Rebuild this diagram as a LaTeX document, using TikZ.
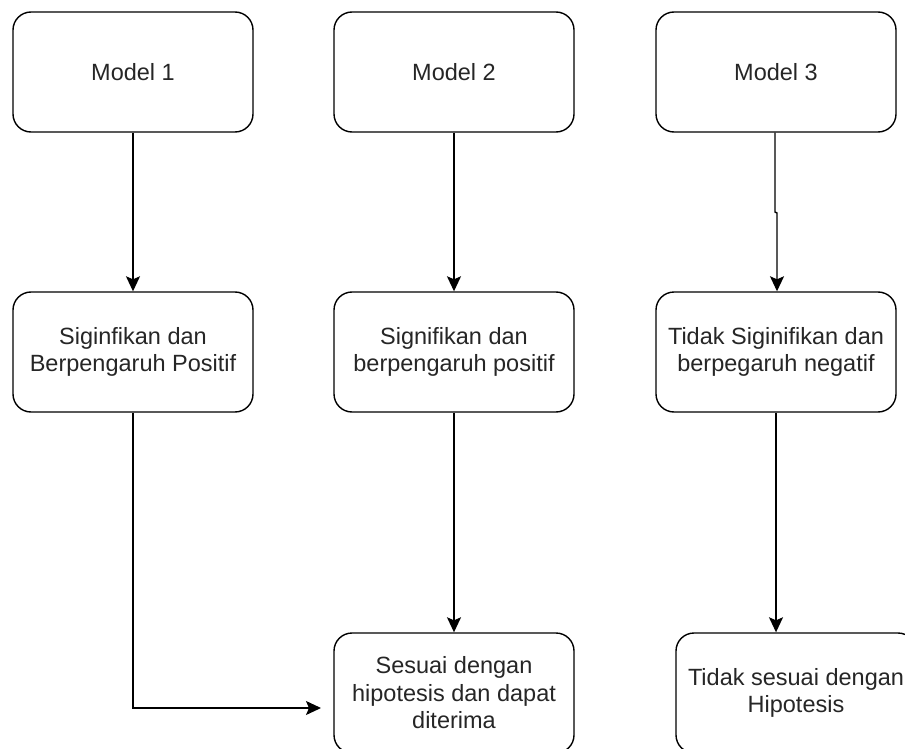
\documentclass[tikz,border=0pt]{standalone}
\usepackage{fontspec}
\setmainfont{Liberation Sans}
\usetikzlibrary{arrows.meta}
\begin{document}
\begin{tikzpicture}[x=1pt,y=-1pt,
  box/.style={draw=black, line width=1.4pt, rounded corners=18pt, fill=white,
    minimum width=240pt, minimum height=120pt, inner sep=0pt, align=center,
    text=black!85, font=\fontsize{23.5}{27.5}\selectfont},
  arr/.style={draw=black, line width=1.4pt, -{Stealth[length=15pt,width=14pt,inset=3pt]}}]
\useasboundingbox (0,0) rectangle (905,749);
\clip (0,0) rectangle (905,749);
\node[box] (m1) at (133,72) {Model 1};
\node[box] (m2) at (454,72) {Model 2};
\node[box] (m3) at (776,72) {Model 3};
\node[box] (r1) at (133,352) {Siginfikan dan\\Berpengaruh Positif};
\node[box] (r2) at (454,352) {Signifikan dan\\berpengaruh positif};
\node[box] (r3) at (776,352) {Tidak Siginifikan dan\\berpegaruh negatif};
\node[box] (s) at (454,693) {Sesuai dengan\\hipotesis dan dapat\\diterima};
\node[box] (t) at (796,693) {Tidak sesuai dengan\\Hipotesis};
\coordinate (j1) at (775,212);
\coordinate (j2) at (777,213);
\coordinate (ent) at (321,708);
\draw[arr] (m1.south) -- (r1.north);
\draw[arr] (m2.south) -- (r2.north);
\draw[arr] ([xshift=-1pt]m3.south) -- (j1) -- (j2) -- (j2 |- r3.north);
\draw[arr] (r1.south) |- (ent);
\draw[arr] (r2.south) -- (r2.south |- s.north);
\draw[arr] (r3.south) -- (r3.south |- t.north);
\end{tikzpicture}
\end{document}
